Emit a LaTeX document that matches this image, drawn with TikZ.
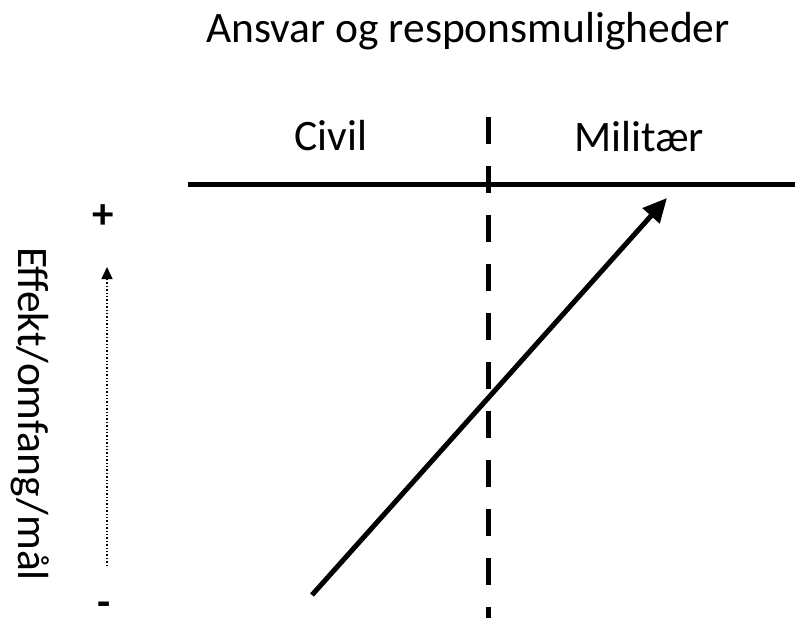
\documentclass[tikz,border=0pt]{standalone}
\usepackage{fontspec}
\setmainfont{Carlito}
\usepackage{tikz}
\usetikzlibrary{arrows.meta, positioning}

\begin{document}
\begin{tikzpicture}[x=1pt, y=-1pt,
        heading/.style={anchor=base, inner sep=0pt, font=\fontsize{43.5}{50}\selectfont},
        sign/.style={inner sep=0pt, font=\fontsize{43}{48}\selectfont\bfseries},
        divider/.style={line width=5pt, dash pattern=on 27pt off 22pt},
        axis/.style={line width=5pt},
        trend/.style={-{Triangle[length=24pt, width=22pt]}, line width=5pt},
        scalearrow/.style={-{Triangle[length=12pt, width=11pt]}, line width=1.4pt, dotted}
    ]
        \useasboundingbox (0,0) rectangle (795,618);

        % Titel og kolonner
        \node[heading] (title) at (468,43) {Ansvar og responsmuligheder};
        \node[heading] (civil) at (331,150) {Civil};
        \node[heading] (mil) at (639,151) {Militær};

        % Akser
        \coordinate (hleft) at (188,184);
        \coordinate (hright) at (795,184);
        \coordinate (vtop) at (488,117);
        \coordinate (vbot) at (488,618);
        \draw[axis] (hleft) -- (hright);
        \draw[divider] (vtop) -- (vbot);

        % Effekt-skala
        \node[sign] (plus) at (103,217) {+};
        \node[sign] (minus) at (104,609) {-};
        \coordinate (slow) at (107,566);
        \coordinate (shigh) at (107,267);
        \draw[scalearrow] (slow) -- (shigh);
        \node[heading, rotate=-90] (effekt) at (18,414) {Effekt/omfang/mål};

        % Udvikling
        \coordinate (start) at (312,595);
        \coordinate (end) at (667,198);
        \draw[trend] (start) -- (end);
    \end{tikzpicture}
\end{document}
